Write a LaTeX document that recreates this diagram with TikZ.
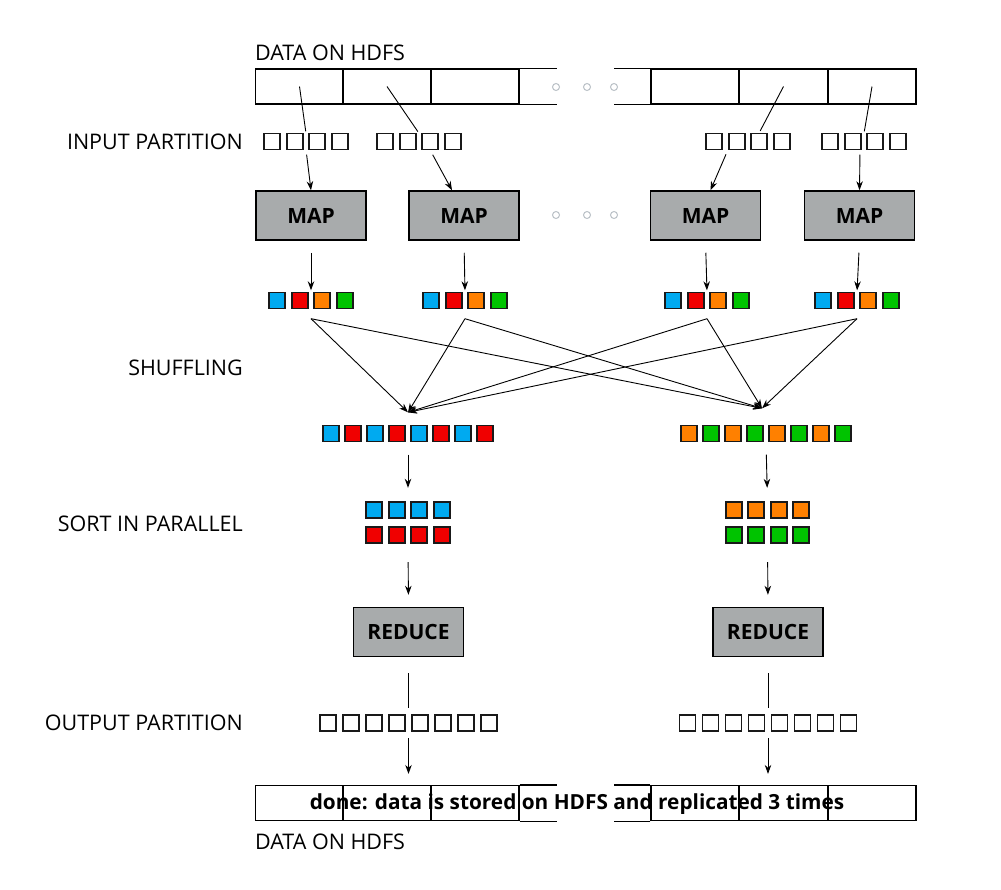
\documentclass[tikz,border=0pt]{standalone}
\usepackage{fontspec}
\setmainfont{Open Sans}
\usetikzlibrary{arrows.meta,positioning,calc}

\definecolor{boxgray}{RGB}{168,171,172}
\definecolor{keyblue}{RGB}{0,170,240}
\definecolor{keyred}{RGB}{240,0,0}
\definecolor{keyorange}{RGB}{255,128,0}
\definecolor{keygreen}{RGB}{0,195,0}
\definecolor{dotgray}{RGB}{185,192,198}

\begin{document}
\begin{tikzpicture}[
    x=1pt, y=-1pt,
    cell/.style={rectangle, draw, line width=1.2pt, minimum width=88pt, minimum height=35pt, inner sep=0pt},
    sq/.style={rectangle, draw=black!90, line width=1.6pt, minimum size=16pt, inner sep=0pt},
    grp/.style={rectangle, minimum height=16pt, inner sep=0pt},
    fn/.style={rectangle, draw, fill=boxgray, line width=1.5pt, minimum width=110pt, minimum height=49pt, font=\fontsize{21}{25}\bfseries\selectfont},
    lbl/.style={anchor=east, inner sep=0pt, font=\fontsize{21.5}{25}\selectfont},
    dot/.style={circle, draw=dotgray, line width=1pt, minimum size=7pt, inner sep=0pt},
    arr/.style={-{Stealth[length=9pt,width=6.5pt]}, line width=0.9pt},
    ln/.style={line width=0.9pt}
]
\useasboundingbox (0,0) rectangle (1001,889);

% HDFS input bar
\foreach \n/\cx in {1/299.5,2/387,3/475,4/695,5/783.5,6/872}
    \node[cell] (hd\n) at (\cx,86.5) {};
\draw[line width=1.2pt] (hd3.north east) -- ++(37,0) (hd3.south east) -- ++(37,0);
\draw[line width=1.2pt] (hd4.north west) -- ++(-36,0) (hd4.south west) -- ++(-36,0);
\node[lbl, above=7pt of hd1.north west, anchor=south west] (tdata) {DATA ON HDFS};

% Input partitions
\foreach \n/\cx in {1/306,2/419,3/748,4/864} {
    \node[grp, minimum width=84pt] (ip\n) at (\cx,141.5) {};
    \foreach \i in {1,...,4}
        \node[sq, fill=white] (ip\n-\i) at ({\cx+22.5*(\i-2.5)},141.5) {};
}
\node[lbl] (lin) at (243,142) {INPUT PARTITION};
\draw[ln, shorten >=2pt] (hd1.center) -- (ip1.north);
\draw[ln, shorten >=2pt] (hd2.center) -- (ip2.north);
\draw[ln, shorten >=2pt] (hd5.center) -- (ip3-3.north);
\draw[ln, shorten >=2pt] (hd6.center) -- (ip4.north);

% Map
\foreach \n/\cx in {1/311,2/464,3/705.5,4/859.5}
    \node[fn] (map\n) at (\cx,215.5) {MAP};
\draw[arr, shorten <=5pt] (ip1.south) -- (map1.north);
\draw[arr, shorten <=5pt] (ip2-3.south) -- ([xshift=-12pt]map2.north);
\draw[arr, shorten <=5pt] ([xshift=-20pt]ip3.south) -- ([xshift=5pt]map3.north);
\draw[arr, shorten <=5pt] ([xshift=-4pt]ip4.south) -- (map4.north);

% dots
\foreach \dx [count=\k] in {556,587,614} {
    \node[dot] (dta\k) at (\dx,87) {};
    \node[dot] (dtb\k) at (\dx,215) {};
}

% Map output
\foreach \n/\cx in {1/311,2/465,3/707,4/857} {
    \node[grp, minimum width=88pt] (kv\n) at (\cx,300.5) {};
    \foreach \c [count=\i] in {keyblue,keyred,keyorange,keygreen}
        \node[sq, fill=\c] (kv\n-\i) at ({\cx+22.5*(\i-2.5)},300.5) {};
    \draw[arr, shorten <=12pt, shorten >=2pt] (map\n.south) -- (kv\n.north);
    \coordinate (ap\n) at ([yshift=-10pt]kv\n.south);
}

% Shuffling
\node[lbl] (lsh) at (243,368) {SHUFFLING};
\node[grp, minimum width=170pt] (sh1) at (408,433.5) {};
\node[grp, minimum width=170pt] (sh2) at (766,433.5) {};
\foreach \i in {1,...,8} {
    \pgfmathsetmacro{\odd}{mod(\i,2)}
    \ifdim\odd pt>0pt
        \node[sq, fill=keyblue] (sh1-\i) at ({408+22*(\i-4.5)},433.5) {};
        \node[sq, fill=keyorange] (sh2-\i) at ({766+22*(\i-4.5)},433.5) {};
    \else
        \node[sq, fill=keyred] (sh1-\i) at ({408+22*(\i-4.5)},433.5) {};
        \node[sq, fill=keygreen] (sh2-\i) at ({766+22*(\i-4.5)},433.5) {};
    \fi
}
\coordinate (tgtL) at ([yshift=13pt]sh1.north);
\coordinate (tgtR) at ([xshift=-4pt,yshift=17pt]sh2.north);
\foreach \n in {1,...,4} {
    \draw[arr] (ap\n) -- (tgtL);
    \draw[arr] (ap\n) -- (tgtR);
}

% Sort
\node[lbl] (lso) at (243,524) {SORT IN PARALLEL};
\node[grp, minimum width=84pt, minimum height=41pt] (srt1) at (408,522.5) {};
\node[grp, minimum width=84pt, minimum height=41pt] (srt2) at (767.5,522.5) {};
\foreach \i in {1,...,4} {
    \node[sq, fill=keyblue] (srt1a-\i) at ({408+22.5*(\i-2.5)},510) {};
    \node[sq, fill=keyred] (srt1b-\i) at ({408+22.5*(\i-2.5)},535) {};
    \node[sq, fill=keyorange] (srt2a-\i) at ({767.5+22.5*(\i-2.5)},510) {};
    \node[sq, fill=keygreen] (srt2b-\i) at ({767.5+22.5*(\i-2.5)},535) {};
}
\draw[arr, shorten <=13pt, shorten >=14pt] (sh1.south) -- (srt1.north);
\draw[arr, shorten <=13pt, shorten >=14pt] (sh2.south) -- (srt2.north);

% Reduce
\node[fn] (red1) at (408.5,632) {REDUCE};
\node[fn] (red2) at (768,632) {REDUCE};
\draw[arr, shorten <=19pt, shorten >=12pt] (srt1.south) -- (red1.north);
\draw[arr, shorten <=19pt, shorten >=12pt] (srt2.south) -- (red2.north);

% Output partitions
\node[lbl] (lout) at (243,723) {OUTPUT PARTITION};
\foreach \n/\cx in {1/408.5,2/768} {
    \node[grp, minimum width=177pt] (out\n) at (\cx,723) {};
    \foreach \i in {1,...,8}
        \node[sq, fill=white] (out\n-\i) at ({\cx+23*(\i-4.5)},723) {};
    \draw[ln, shorten <=16pt, shorten >=7pt] (red\n.south) -- (out\n.north);
}

% HDFS output bar
\foreach \n/\cx in {1/299.5,2/387,3/475,4/695,5/783.5,6/872}
    \node[cell] (hb\n) at (\cx,803) {};
\draw[line width=1.2pt] (hb3.north east) -- ++(37,0) (hb3.south east) -- ++(37,0);
\draw[line width=1.2pt] (hb4.north west) -- ++(-36,0) (hb4.south west) -- ++(-36,0);
\draw[arr, shorten <=7pt, shorten >=11pt] (out1.south) -- (out1.south |- hb2.north);
\draw[arr, shorten <=7pt, shorten >=11pt] (out2.south) -- (out2.south |- hb2.north);
\node[inner sep=0.8pt, font=\fontsize{20.8}{24}\bfseries\selectfont] (done) at (577,804)
    {done: data is stored on HDFS and replicated 3 times};
\node[lbl, below=13pt of hb1.south west, anchor=north west] (bdata) {DATA ON HDFS};

\end{tikzpicture}
\end{document}
